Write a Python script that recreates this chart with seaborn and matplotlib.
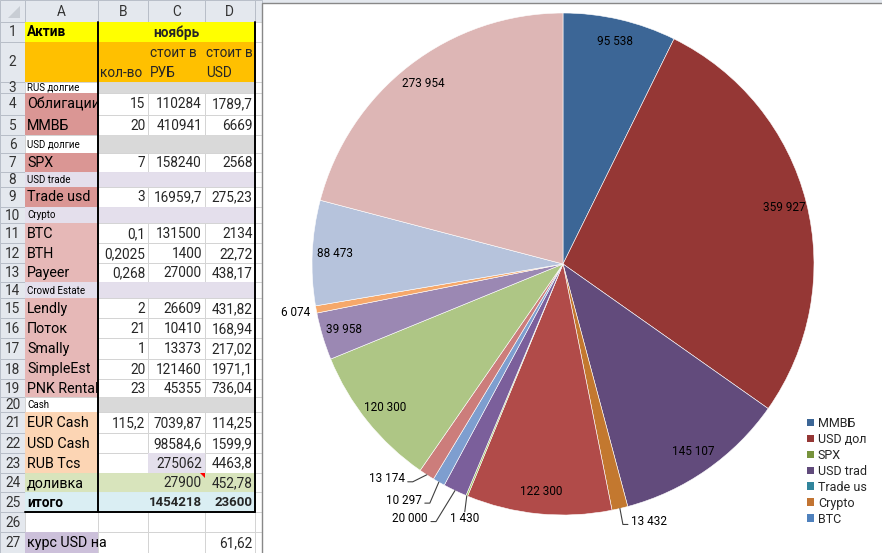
import numpy as np
import pandas as pd
import seaborn as sns
import matplotlib.pyplot as plt
from matplotlib.patches import Rectangle, Patch, Polygon

sns.set_theme(style="white")
plt.rcParams['font.family'] = ['Roboto', 'DejaVu Sans']

# ---- pie data (clockwise from 12 o'clock) ----
pie_values = [95538, 359927, 145107, 13432, 122300, 1430, 20000,
              10297, 13174, 120300, 39958, 6074, 88473, 273954]
pie_colors = ["#3C6696", "#953735", "#624B7C", "#C3782F", "#B14B49", "#9BBB59", "#7B5F9B",
              "#7E9ECF", "#CC7D7B", "#AEC685", "#9B88B3", "#F6A86A", "#B6C3DC", "#DDB6B5"]
# legend names as far as they are visible in the (cut) legend
legend_names = ["ММВБ", "USD дол", "SPX", "USD trad", "Trade us", "Crypto", "BTC"]
legend_colors = ["#3C6696", "#953735", "#77933C", "#604A7B", "#31859C", "#C27432", "#4F81BD"]

# ---- sheet data ----
col_letters = ["A", "B", "C", "D"]
col_a = ["Актив", "", "RUS долгие", "Облигации", "ММВБ", "USD долгие", "SPX", "USD trade",
         "Trade usd", "Crypto", "BTC", "BTH", "Payeer", "Crowd Estate", "Lendly", "Поток",
         "Smally", "SimpleEst", "PNK Rental", "Cash", "EUR Cash", "USD Cash", "RUB Tcs",
         "доливка", "итого", "", "курс USD на"]
col_b = ["", "кол-во", "", "15", "20", "", "7", "", "3", "", "0,1", "0,2025", "0,268", "",
         "2", "21", "1", "20", "23", "", "115,2", "", "", "", "", "", ""]
col_c = ["", "стоит в\nРУБ", "", "110284", "410941", "", "158240", "", "16959,7", "",
         "131500", "1400", "27000", "", "26609", "10410", "13373", "121460", "45355", "",
         "7039,87", "98584,6", "275062", "27900", "1454218", "", ""]
col_d = ["", "стоит в\nUSD", "", "1789,7", "6669", "", "2568", "", "275,23", "",
         "2134", "22,72", "438,17", "", "431,82", "168,94", "217,02", "1971,1", "736,04", "",
         "114,25", "1599,9", "4463,8", "452,78", "23600", "", "61,62"]
month = "ноябрь"

# ---- layout (pixels) ----
W, H = 882, 553
col_x = [0, 25, 98, 148, 204.5, 255, 262]
row_y = [0, 22, 42, 82, 92.7, 115, 135, 153.3, 172.3, 186.7, 206.7, 223.3, 243.3, 263.3,
         282.3, 298.3, 318.3, 338.3, 359, 379, 397.3, 412.3, 433.3, 453.3, 472.7, 492.3,
         512.3, 532.3, 553]
section_rows = [3, 6, 8, 10, 14, 20]
FS_A, FS_NUM = 10.3, 9.8

YEL, ORG, GRY, LAV = "#FFFF00", "#FFC000", "#D9D9D9", "#E4DFEC"
PNK, LPK, PCH = "#DA9694", "#E6B8B7", "#FCD5B4"
GRN, LBL, PUR, WH = "#D8E4BC", "#DAEEF3", "#CCC0DA", "white"
fill_a = [YEL, ORG, WH, PNK, PNK, WH, PNK, LAV, PNK, LAV, LPK, LPK, LPK, LAV, LPK, LPK,
          LPK, LPK, LPK, WH, PCH, PCH, PCH, GRN, LBL, WH, PUR]
fill_bd = [YEL, ORG, GRY, WH, WH, GRY, WH, LAV, WH, LAV, WH, WH, WH, LAV, WH, WH, WH,
           WH, WH, GRY, WH, WH, WH, GRN, LBL, WH, WH]
HDR, HDR_EDGE, GRID = "#E4E8EE", "#B8BEC8", "#D4D4D4"

fig = plt.figure(figsize=(W / 100, H / 100), dpi=100)
ax_s = fig.add_axes([0, 0, 1, 1])
ax_s.set_xlim(0, W)
ax_s.set_ylim(H, 0)
ax_s.axis("off")

# column header strip
ax_s.add_patch(Rectangle((0, 0), W, row_y[1], fc=HDR, ec="none"))
for j in range(len(col_x) - 1):
    ax_s.add_patch(Rectangle((col_x[j], 0), col_x[j + 1] - col_x[j], row_y[1],
                             fc=HDR, ec=HDR_EDGE, lw=0.7))
    if 1 <= j <= 4:
        ax_s.text((col_x[j] + col_x[j + 1]) / 2, row_y[1] / 2 + 1, col_letters[j - 1],
                  ha="center", va="center", fontsize=9.8, color="#333333")
ax_s.add_patch(Polygon([(20, 6), (20, 18), (8, 18)], closed=True, fc="#C8CDD4", ec="none"))

# cells
for i in range(27):
    y0, y1 = row_y[i + 1], row_y[i + 2]
    h = y1 - y0
    yc = (y0 + y1) / 2
    ax_s.add_patch(Rectangle((0, y0), 25, h, fc=HDR, ec=HDR_EDGE, lw=0.7))
    ax_s.text(12.5, yc + 0.5, str(i + 1), ha="center", va="center", fontsize=9.8, color="#333333")
    fills = [fill_a[i], fill_bd[i], fill_bd[i], fill_bd[i], WH]
    if i == 22:
        fills[2] = LAV
    for j in range(5):
        x0, x1 = col_x[j + 1], col_x[j + 2]
        ec = GRID if fills[j] == WH else fills[j]
        ax_s.add_patch(Rectangle((x0, y0), x1 - x0, h, fc=fills[j], ec=ec, lw=0.7))

    r = i + 1
    small = r in section_rows
    bold = r in (1, 25)
    t = ax_s.text(27, yc + 0.5, col_a[i], ha="left", va="center",
                  fontsize=7 if small else (9.8 if bold else FS_A),
                  fontweight="bold" if bold else "normal", color="black")
    t.set_clip_path(Rectangle((col_x[1], y0), col_x[2] - col_x[1], h, transform=ax_s.transData))

    if r == 2:
        ax_s.text(col_x[2] + 2, y1 - 9, col_b[i], ha="left", va="center", fontsize=FS_NUM)
        for j, s in ((3, col_c[i]), (4, col_d[i])):
            top, bot = s.split("\n")
            ax_s.text(col_x[j] + 2, y0 + 11, top, ha="left", va="center", fontsize=FS_NUM)
            ax_s.text(col_x[j] + 2, y1 - 9, bot, ha="left", va="center", fontsize=FS_NUM)
        continue
    for j, s in ((2, col_b[i]), (3, col_c[i]), (4, col_d[i])):
        if s:
            ax_s.text(col_x[j + 1] - 2.5, yc + 0.5, s, ha="right", va="center",
                      fontsize=9.5 if bold else FS_NUM,
                      fontweight="bold" if bold else "normal")

ax_s.text((col_x[2] + col_x[5]) / 2, (row_y[1] + row_y[2]) / 2 + 0.5, month,
          ha="center", va="center", fontsize=9.8, fontweight="bold")

# comment marker
cx_r, cy_t = col_x[4], row_y[24]
ax_s.add_patch(Polygon([(cx_r - 5, cy_t), (cx_r, cy_t), (cx_r, cy_t + 5)], closed=True, fc="red", ec="none"))

# thick table borders
ax_s.plot([col_x[2], col_x[2]], [row_y[1], row_y[26]], color="black", lw=1.4)
ax_s.plot([col_x[5], col_x[5]], [row_y[1], row_y[26]], color="black", lw=1.4)
ax_s.plot([col_x[1], col_x[5]], [row_y[26], row_y[26]], color="black", lw=1.4)

# chart area
ax_s.add_patch(Rectangle((262, 3), W - 262 + 5, H, fc="white", ec="#888888", lw=1.0, zorder=5))

# ---- pie ----
pcx, pcy, pr = 563, 264, 251
ax_p = fig.add_axes([262 / W, 0, (W - 262) / W, (H - 3) / H])
ax_p.set_facecolor("none")
wedges, _ = ax_p.pie(pie_values, colors=pie_colors, startangle=90, counterclock=False,
                     wedgeprops=dict(edgecolor="white", linewidth=0.4))
ax_p.set_aspect("auto")
ax_p.set_xlim((262 - pcx) / pr, (W - pcx) / pr)
ax_p.set_ylim((pcy - H) / pr, (pcy - 3) / pr)

# outside labels: offset (px) from slice edge, alignment
outside = {3: (11, 13, "left"), 5: (-2, 23, "center"), 6: (-27, 28, "right"),
           7: (-17, 18, "right"), 8: (-22, 4, "right"), 11: (-6, 3, "right")}
for k, (w, v) in enumerate(zip(wedges, pie_values)):
    lab = f"{v:,}".replace(",", " ")
    ang = np.deg2rad((w.theta1 + w.theta2) / 2)
    ex, ey = np.cos(ang), np.sin(ang)
    if k not in outside:
        ax_p.text(0.91 * ex, 0.91 * ey, lab, ha="center", va="center", fontsize=8.5, color="black")
        continue
    dx, dy, ha = outside[k]
    lx, ly = ex + dx / pr, ey - dy / pr
    ax_p.text(lx, ly, lab, ha=ha, va="center", fontsize=8.5, color="black")
    if k == 11:
        continue
    if ha == "center":
        ax_p.plot([ex, lx], [ey, ly + 7 / pr], color="#404040", lw=0.8)
    else:
        sgn = 1 if ha == "left" else -1
        endx, endy = lx - sgn * 3 / pr, ly - 3 / pr
        elbx = endx - sgn * 5 / pr
        ax_p.plot([ex, elbx, endx], [ey, endy, endy], color="#404040", lw=0.8)

# legend
handles = [Patch(fc=c, ec="none") for c in legend_colors]
leg = fig.legend(handles, legend_names, loc="upper left", bbox_to_anchor=(807 / W, 1 - 417 / H),
                 frameon=False, fontsize=9, handlelength=0.58, handleheight=0.58,
                 handletextpad=0.3, labelspacing=0.235, borderpad=0, borderaxespad=0)

fig.savefig("out.png", dpi=100)
